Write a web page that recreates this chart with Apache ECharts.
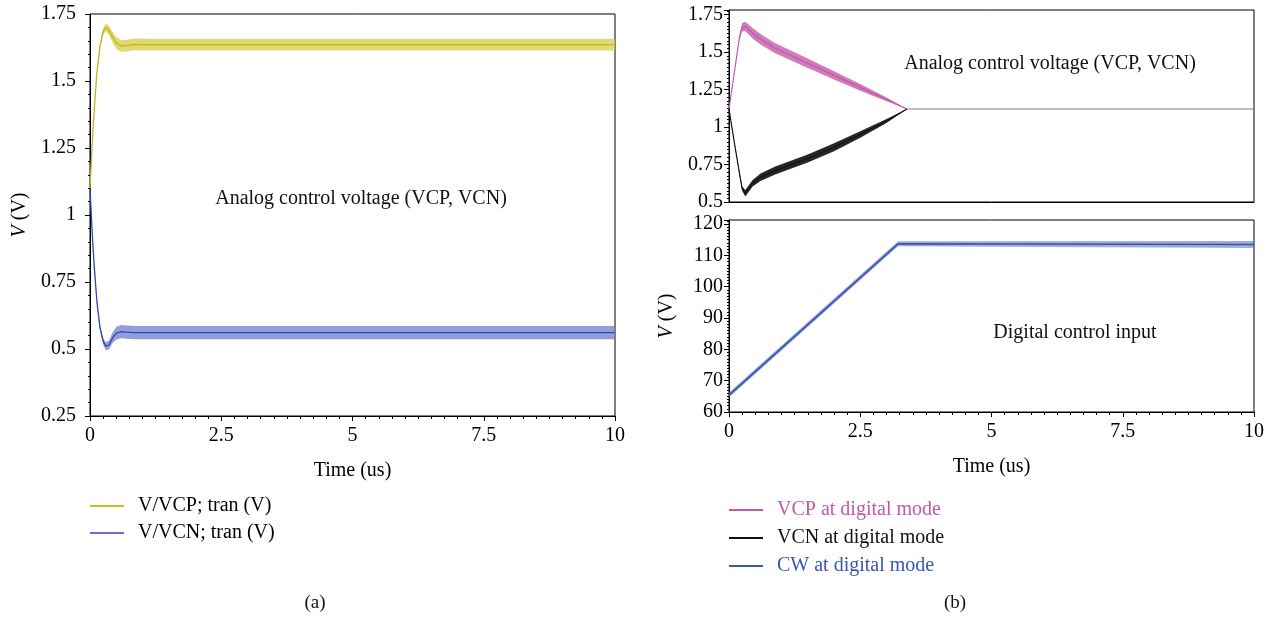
<!DOCTYPE html>
<html>
<head>
<meta charset="utf-8">
<script src="https://cdn.jsdelivr.net/npm/echarts@6/dist/echarts.min.js"></script>
<style>
  html, body { margin: 0; background: #fff; }
  #chart { width: 1273px; height: 617px; }
</style>
</head>
<body>
<div id="chart"></div>
<script>
// (a) analog mode: time (us), centre of trace and half width of the ripple band
var tA      = [0, 0.04, 0.08, 0.13, 0.19, 0.25, 0.3, 0.36, 0.44, 0.51, 0.6, 0.7, 0.85, 1, 2, 3, 4, 5, 6, 7, 8, 9, 10];
var vcpA    = [1.10, 1.26, 1.39, 1.53, 1.63, 1.685, 1.70, 1.69, 1.66, 1.64, 1.63, 1.632, 1.637, 1.636, 1.636, 1.636, 1.636, 1.636, 1.636, 1.636, 1.636, 1.636, 1.636];
var vcpRipA = [0, 0.003, 0.005, 0.007, 0.009, 0.012, 0.015, 0.017, 0.02, 0.022, 0.022, 0.022, 0.022, 0.022, 0.022, 0.022, 0.022, 0.022, 0.022, 0.022, 0.022, 0.022, 0.022];
var vcnA    = [1.10, 0.94, 0.81, 0.68, 0.58, 0.53, 0.51, 0.515, 0.545, 0.56, 0.565, 0.563, 0.561, 0.561, 0.561, 0.561, 0.561, 0.561, 0.561, 0.561, 0.561, 0.561, 0.561];
var vcnRipA = [0, 0.003, 0.005, 0.007, 0.009, 0.012, 0.015, 0.017, 0.02, 0.024, 0.025, 0.025, 0.025, 0.025, 0.025, 0.025, 0.025, 0.025, 0.025, 0.025, 0.025, 0.025, 0.025];

// (b) digital mode, control voltages
var tB      = [0, 0.1, 0.2, 0.25, 0.31, 0.45, 0.6, 0.88, 1.5, 2, 2.5, 3, 3.39];
var vcpB    = [1.12, 1.36, 1.60, 1.665, 1.67, 1.625, 1.585, 1.525, 1.425, 1.344, 1.264, 1.184, 1.12];
var vcpRipB = [0, 0.004, 0.01, 0.028, 0.032, 0.035, 0.035, 0.033, 0.032, 0.028, 0.022, 0.012, 0];
var vcnB    = [1.12, 0.90, 0.69, 0.59, 0.558, 0.625, 0.665, 0.71, 0.79, 0.865, 0.95, 1.04, 1.12];
var vcnRipB = [0, 0.004, 0.01, 0.015, 0.022, 0.022, 0.025, 0.027, 0.027, 0.026, 0.022, 0.014, 0];
var settledT = [3.39, 10];
var settledV = [1.12, 1.12];

// (b) digital control word
var tC     = [0, 3.22, 10];
var cwC    = [65.4, 113.7, 113.5];
var cwRipC = [0.8, 0.8, 1.1];

var xTicks = [0, 2.5, 5, 7.5, 10];

var FONT = "'Liberation Serif', 'DejaVu Serif', serif";
var BLACK = '#000';

function pairs(t, v) {
  return t.map(function (x, i) { return [x, v[i]]; });
}

// ripple band drawn as one polygon through the axis scales
function band(gi, t, mid, rip, color) {
  return {
    type: 'custom', xAxisIndex: gi, yAxisIndex: gi, silent: true, z: 1,
    data: [[t[0], mid[0]]],
    renderItem: function (params, api) {
      var pts = [], i;
      for (i = 0; i < t.length; i++) pts.push(api.coord([t[i], mid[i] + rip[i]]));
      for (i = t.length - 1; i >= 0; i--) pts.push(api.coord([t[i], mid[i] - rip[i]]));
      return { type: 'polygon', shape: { points: pts }, style: { fill: color } };
    }
  };
}

function line(name, gi, data, color, width) {
  return {
    name: name, type: 'line', xAxisIndex: gi, yAxisIndex: gi, z: 3,
    data: data, symbol: 'none', silent: true, animation: false,
    color: color, lineStyle: { color: color, width: width }
  };
}

function xAxis(gi, showLabels, name) {
  return {
    gridIndex: gi, type: 'value', min: xTicks[0], max: xTicks[xTicks.length - 1], interval: xTicks[1] - xTicks[0],
    axisLine: { lineStyle: { color: BLACK, width: 1 } },
    axisTick: { show: showLabels, length: 5, lineStyle: { color: BLACK } },
    minorTick: { show: showLabels, splitNumber: 10, length: 3, lineStyle: { color: BLACK } },
    axisLabel: { show: showLabels, color: BLACK, fontFamily: FONT, fontSize: 20, margin: 10 },
    splitLine: { show: false },
    name: name, nameLocation: 'middle', nameGap: 45,
    nameTextStyle: { color: BLACK, fontFamily: FONT, fontSize: 20 }
  };
}

function yAxis(gi, min, max, step, minor, margin, name, gap) {
  var fits = Math.abs((max - min) / step - Math.round((max - min) / step)) < 1e-9;
  return {
    gridIndex: gi, type: 'value', min: min, max: max, interval: step,
    axisLine: { lineStyle: { color: BLACK, width: 1 } },
    axisTick: { length: 5, lineStyle: { color: BLACK } },
    minorTick: { show: true, splitNumber: minor, length: 2, lineStyle: { color: BLACK } },
    axisLabel: { color: BLACK, fontFamily: FONT, fontSize: 20, margin: margin, showMaxLabel: fits },
    splitLine: { show: false },
    name: name, nameLocation: 'middle', nameRotate: 90, nameGap: gap,
    nameTextStyle: {
      color: BLACK, fontFamily: FONT, fontSize: 20,
      rich: { i: { fontStyle: 'italic', fontFamily: FONT, fontSize: 20, color: BLACK } }
    }
  };
}

var gridBase = { show: true, borderColor: BLACK, borderWidth: 1, backgroundColor: 'transparent' };

var option = {
  animation: false,
  grid: [
    Object.assign({ left: 90, top: 14, width: 525, height: 402 }, gridBase),
    Object.assign({ left: 729, top: 10, width: 525, height: 192 }, gridBase),
    Object.assign({ left: 729, top: 220, width: 525, height: 192 }, gridBase)
  ],
  xAxis: [
    xAxis(0, true, 'Time (us)'),
    xAxis(1, false, ''),
    xAxis(2, true, 'Time (us)')
  ],
  yAxis: [
    yAxis(0, 0.25, 1.75, 0.25, 5, 14, '{i|V} (V)', 60),
    yAxis(1, 0.5, 1.78, 0.25, 10, 6, '', 50),
    yAxis(2, 60, 121.3, 10, 10, 6, '{i|V} (V)', 52)
  ],
  legend: [
    {
      orient: 'vertical', left: 90, top: 496, padding: 0, itemWidth: 34, itemHeight: 2, itemGap: 7, icon: 'rect',
      textStyle: { fontFamily: FONT, fontSize: 20, color: BLACK, padding: [0, 0, 0, 9] },
      data: [
        { name: 'V/VCP; tran (V)', itemStyle: { color: '#c9c020' } },
        { name: 'V/VCN; tran (V)', itemStyle: { color: '#6d70c0' } }
      ]
    },
    {
      orient: 'vertical', left: 729, top: 500, padding: 0, itemWidth: 34, itemHeight: 2, itemGap: 8, icon: 'rect',
      textStyle: { fontFamily: FONT, fontSize: 20, padding: [0, 0, 0, 9] },
      data: [
        { name: 'VCP at digital mode', textStyle: { color: '#c059a8' } },
        { name: 'VCN at digital mode', textStyle: { color: '#111' } },
        { name: 'CW at digital mode', textStyle: { color: '#3a55b0' } }
      ]
    }
  ],
  graphic: [
    { type: 'text', x: 361, y: 199, style: { text: 'Analog control voltage (VCP, VCN)', font: '20px ' + FONT, fill: '#111', align: 'center', verticalAlign: 'middle' } },
    { type: 'text', x: 1050, y: 64, style: { text: 'Analog control voltage (VCP, VCN)', font: '20px ' + FONT, fill: '#111', align: 'center', verticalAlign: 'middle' } },
    { type: 'text', x: 1075, y: 333, style: { text: 'Digital control input', font: '20px ' + FONT, fill: '#111', align: 'center', verticalAlign: 'middle' } },
    { type: 'text', x: 315, y: 603, style: { text: '(a)', font: '19px ' + FONT, fill: '#111', align: 'center', verticalAlign: 'middle' } },
    { type: 'text', x: 955, y: 603, style: { text: '(b)', font: '19px ' + FONT, fill: '#111', align: 'center', verticalAlign: 'middle' } }
  ],
  series: [
    band(0, tA, vcpA, vcpRipA, 'rgba(214, 205, 70, 0.75)'),
    band(0, tA, vcnA, vcnRipA, 'rgba(110, 126, 205, 0.75)'),
    line('V/VCP; tran (V)', 0, pairs(tA, vcpA), '#c2b61a', 1.3),
    line('V/VCN; tran (V)', 0, pairs(tA, vcnA), '#3148a8', 1.3),

    band(1, tB, vcpB, vcpRipB, 'rgba(200, 100, 175, 0.85)'),
    band(1, tB, vcnB, vcnRipB, 'rgba(15, 15, 15, 0.9)'),
    line('VCP at digital mode', 1, pairs(tB, vcpB), '#c059a8', 1.2),
    line('VCN at digital mode', 1, pairs(tB, vcnB), '#111111', 1.2),
    line('settled', 1, pairs(settledT, settledV), '#808080', 1),

    band(2, tC, cwC, cwRipC, 'rgba(80, 105, 195, 0.55)'),
    line('CW at digital mode', 2, pairs(tC, cwC), '#3a52aa', 1.6)
  ]
};

var chart = echarts.init(document.getElementById('chart'), null, { renderer: 'canvas' });
chart.setOption(option);
</script>
</body>
</html>
